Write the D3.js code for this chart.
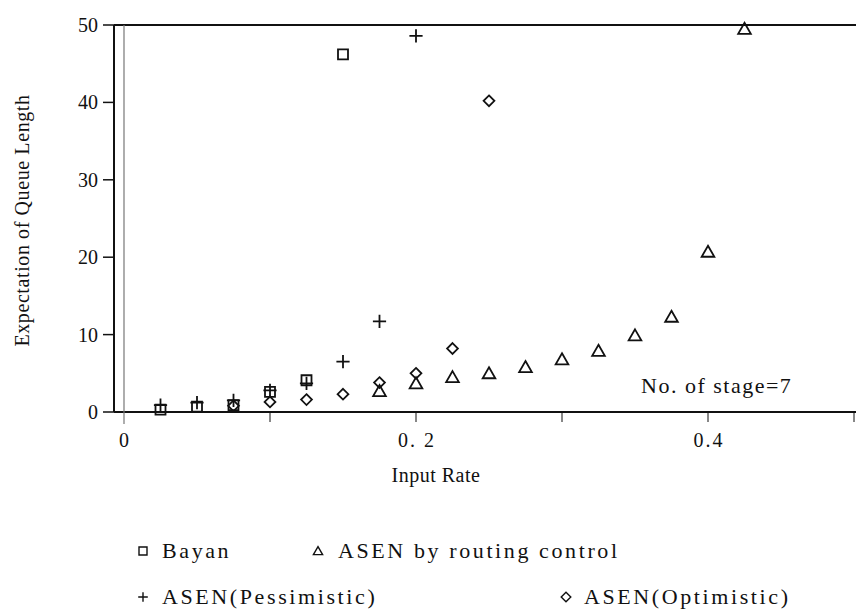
<!DOCTYPE html>
<html>
<head>
<meta charset="utf-8">
<script src="https://cdn.jsdelivr.net/npm/d3@7"></script>
<style>
  body { margin: 0; background: #fff; }
  text { font-family: "Liberation Serif", "DejaVu Serif", serif; fill: #111; }
</style>
</head>
<body>
<div id="chart"></div>
<script>
// data
const bayanX = [0.025, 0.05, 0.075, 0.1, 0.125, 0.15];
const bayanY = [0.3, 0.7, 0.9, 2.6, 4.1, 46.2];

const routingX = [0.175, 0.2, 0.225, 0.25, 0.275, 0.3, 0.325, 0.35, 0.375, 0.4, 0.425];
const routingY = [2.7, 3.7, 4.5, 5.0, 5.8, 6.8, 7.9, 9.9, 12.3, 20.7, 49.5];

const pessX = [0.025, 0.05, 0.075, 0.1, 0.125, 0.15, 0.175, 0.2];
const pessY = [0.9, 1.2, 1.5, 2.8, 3.7, 6.5, 11.7, 48.6];

const optX = [0.075, 0.1, 0.125, 0.15, 0.175, 0.2, 0.225, 0.25];
const optY = [0.8, 1.3, 1.6, 2.3, 3.8, 5.0, 8.2, 40.2];

const yTicks = [0, 10, 20, 30, 40, 50];
const xTicks = [0, 0.1, 0.2, 0.3, 0.4, 0.5];
const xTickLabels = { 0: "0", 0.2: "0. 2", 0.4: "0.4" };

const width = 856, height = 610;
const svg = d3.select("#chart").append("svg")
    .attr("width", width)
    .attr("height", height);

const x = d3.scaleLinear().domain([0, 0.5]).range([124, 854]);
const y = d3.scaleLinear().domain([0, 50]).range([412, 25]);
const frameLeft = 114, frameRight = 856;

// marker shapes
const shapes = {
    square: s => `M${-s},${-s}H${s}V${s}H${-s}Z`,
    triangle: s => `M0,${-s * 1.1}L${s * 1.15},${s * 0.9}H${-s * 1.15}Z`,
    plus: s => `M${-s * 1.2},0H${s * 1.2}M0,${-s * 1.2}V${s * 1.2}`,
    diamond: s => `M0,${-s * 1.2}L${s * 1.2},0L0,${s * 1.2}L${-s * 1.2},0Z`
};

// frame: top line, left axis line, bottom axis line, grey zero line
svg.append("line")
    .attr("x1", frameLeft).attr("x2", frameRight)
    .attr("y1", y(50)).attr("y2", y(50))
    .attr("stroke", "#111").attr("stroke-width", 2);
svg.append("line")
    .attr("x1", frameLeft).attr("x2", frameRight)
    .attr("y1", y(0)).attr("y2", y(0))
    .attr("stroke", "#111").attr("stroke-width", 2);
svg.append("line")
    .attr("x1", frameLeft).attr("x2", frameLeft)
    .attr("y1", y(50)).attr("y2", y(0))
    .attr("stroke", "#111").attr("stroke-width", 2);
svg.append("line")
    .attr("x1", x(0)).attr("x2", x(0))
    .attr("y1", y(50)).attr("y2", y(0) + 12)
    .attr("stroke", "#777").attr("stroke-width", 1.2);

// y ticks
const yAxis = svg.append("g");
yAxis.selectAll("line")
    .data(yTicks)
    .enter().append("line")
    .attr("x1", frameLeft - 11).attr("x2", frameLeft)
    .attr("y1", d => y(d)).attr("y2", d => y(d))
    .attr("stroke", "#111").attr("stroke-width", 1.5);
yAxis.selectAll("text")
    .data(yTicks)
    .enter().append("text")
    .attr("x", frameLeft - 16)
    .attr("y", d => y(d))
    .attr("dy", "0.35em")
    .attr("text-anchor", "end")
    .style("font-size", "20px")
    .text(d => d);

// x ticks
const xAxis = svg.append("g");
xAxis.selectAll("line")
    .data(xTicks.filter(d => d > 0))
    .enter().append("line")
    .attr("x1", d => x(d)).attr("x2", d => x(d))
    .attr("y1", y(0)).attr("y2", y(0) + 10)
    .attr("stroke", "#111").attr("stroke-width", 1);
xAxis.selectAll("text")
    .data(xTicks.filter(d => xTickLabels[d] !== undefined))
    .enter().append("text")
    .attr("x", d => x(d) + 1)
    .attr("y", y(0) + 35)
    .attr("text-anchor", "middle")
    .style("font-size", "20px")
    .style("letter-spacing", "2px")
    .text(d => xTickLabels[d]);

// axis titles
svg.append("text")
    .attr("x", 436).attr("y", 482)
    .attr("text-anchor", "middle")
    .style("font-size", "20px")
    .style("letter-spacing", "0.5px")
    .text("Input Rate");
svg.append("text")
    .attr("transform", `translate(29,${(y(0) + y(50)) / 2 + 2}) rotate(-90)`)
    .attr("text-anchor", "middle")
    .style("font-size", "20px")
    .style("letter-spacing", "0.6px")
    .text("Expectation of Queue Length");

svg.append("text")
    .attr("x", 641).attr("y", 393)
    .style("font-size", "22px")
    .style("letter-spacing", "1.5px")
    .text("No. of stage=7");

// series
const series = [
    { name: "Bayan", xs: bayanX, ys: bayanY, shape: "square", size: 5 },
    { name: "ASEN by routing control", xs: routingX, ys: routingY, shape: "triangle", size: 5.5 },
    { name: "ASEN(Pessimistic)", xs: pessX, ys: pessY, shape: "plus", size: 5.5 },
    { name: "ASEN(Optimistic)", xs: optX, ys: optY, shape: "diamond", size: 4.5 }
];

series.forEach(s => {
    svg.append("g")
        .selectAll("path")
        .data(s.xs.map((v, i) => [v, s.ys[i]]))
        .enter().append("path")
        .attr("transform", d => `translate(${x(d[0])},${y(d[1])})`)
        .attr("d", shapes[s.shape](s.size))
        .attr("fill", "none")
        .attr("stroke", "#111")
        .attr("stroke-width", 1.8);
});

// legend
const legendPos = [
    { sx: 143, tx: 162, y: 558 },
    { sx: 318, tx: 338, y: 558 },
    { sx: 143, tx: 162, y: 604 },
    { sx: 566, tx: 584, y: 604 }
];
const legend = svg.append("g")
    .selectAll("g")
    .data(series)
    .enter().append("g");
legend.append("path")
    .attr("transform", (d, i) => `translate(${legendPos[i].sx},${legendPos[i].y - 7})`)
    .attr("d", d => shapes[d.shape](4))
    .attr("fill", "none")
    .attr("stroke", "#111")
    .attr("stroke-width", 1.4);
legend.append("text")
    .attr("x", (d, i) => legendPos[i].tx)
    .attr("y", (d, i) => legendPos[i].y)
    .style("font-size", "22px")
    .style("letter-spacing", "2.6px")
    .text(d => d.name);
</script>
</body>
</html>
